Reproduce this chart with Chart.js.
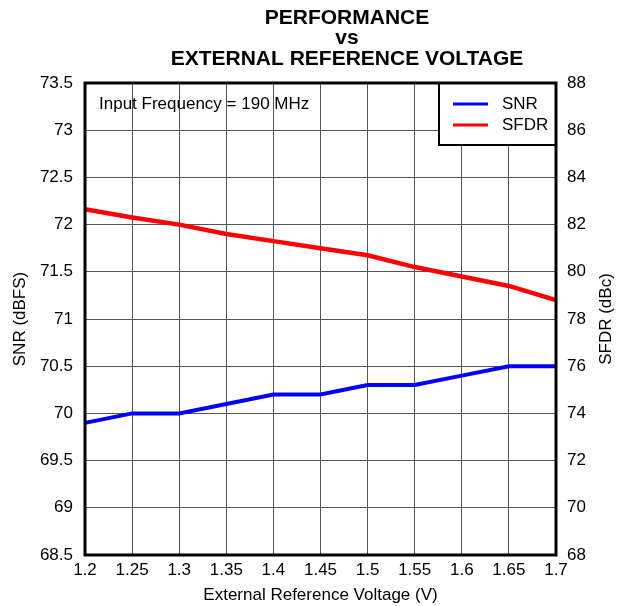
<!DOCTYPE html>
<html>
<head>
<meta charset="utf-8">
<script src="https://cdn.jsdelivr.net/npm/chart.js@4"></script>
<style>
  html, body { margin: 0; padding: 0; background: #fff; }
  #wrap { width: 624px; height: 606px; }
</style>
</head>
<body>
<div id="wrap"><canvas id="perfChart" width="624" height="606"></canvas></div>
<script>
// data
const voltages = ['1.2', '1.25', '1.3', '1.35', '1.4', '1.45', '1.5', '1.55', '1.6', '1.65', '1.7'];
const snrValues = [69.9, 70.0, 70.0, 70.1, 70.2, 70.2, 70.3, 70.3, 70.4, 70.5, 70.5];
const sfdrValues = [82.65, 82.3, 82.0, 81.6, 81.3, 81.0, 80.7, 80.2, 79.8, 79.4, 78.8];
const titleLines = ['PERFORMANCE', 'vs', 'EXTERNAL REFERENCE VOLTAGE'];
const noteText = 'Input Frequency = 190 MHz';

const FONT = 'Arial, "Liberation Sans", sans-serif';

// title, frame, inside legend box, note and right-hand axis title
const decorations = {
  id: 'decorations',
  afterDraw(chart) {
    const ctx = chart.ctx;
    const area = chart.chartArea;
    ctx.save();

    // title (sits off-centre in the original)
    ctx.fillStyle = '#000';
    ctx.font = 'bold 21px ' + FONT;
    ctx.textAlign = 'center';
    ctx.textBaseline = 'middle';
    titleLines.forEach((t, i) => ctx.fillText(t, 347, 18 + i * 20.5));

    // note text
    ctx.font = '17px ' + FONT;
    ctx.textAlign = 'left';
    ctx.fillText(noteText, area.left + 14, area.top + 21);

    // legend box
    const boxW = 117, boxH = 62;
    const bx = area.right - boxW, by = area.top;
    ctx.fillStyle = '#fff';
    ctx.fillRect(bx, by, boxW, boxH);
    ctx.strokeStyle = '#000';
    ctx.lineWidth = 2;
    ctx.strokeRect(bx, by, boxW, boxH);
    chart.data.datasets.forEach((ds, i) => {
      const y = by + 21 + i * 21;
      ctx.strokeStyle = ds.borderColor;
      ctx.lineWidth = 3;
      ctx.beginPath();
      ctx.moveTo(bx + 14, y);
      ctx.lineTo(bx + 49, y);
      ctx.stroke();
      ctx.fillStyle = '#000';
      ctx.font = '17px ' + FONT;
      ctx.fillText(ds.label, bx + 63, y);
    });

    // plot frame
    ctx.strokeStyle = '#000';
    ctx.lineWidth = 3;
    ctx.strokeRect(area.left, area.top, area.right - area.left, area.bottom - area.top);

    // right axis title, reads bottom to top
    ctx.translate(606, (area.top + area.bottom) / 2);
    ctx.rotate(-Math.PI / 2);
    ctx.textAlign = 'center';
    ctx.fillStyle = '#000';
    ctx.font = '17px ' + FONT;
    ctx.fillText('SFDR (dBc)', 0, 0);
    ctx.restore();
  }
};

const tickFmt = v => String(Number(v.toFixed(2)));

const ctx = document.getElementById('perfChart').getContext('2d');
new Chart(ctx, {
  type: 'line',
  data: {
    labels: voltages,
    datasets: [{
      label: 'SNR',
      data: snrValues,
      borderColor: '#0000ff',
      borderWidth: 4,
      pointRadius: 0,
      tension: 0,
      yAxisID: 'y'
    }, {
      label: 'SFDR',
      data: sfdrValues,
      borderColor: '#ff0000',
      borderWidth: 4.5,
      pointRadius: 0,
      tension: 0,
      yAxisID: 'y2'
    }]
  },
  options: {
    responsive: false,
    animation: false,
    layout: { padding: { top: 83, right: 0, bottom: 0, left: 10 } },
    plugins: {
      legend: { display: false },
      tooltip: { enabled: false },
      title: { display: false }
    },
    scales: {
      x: {
        type: 'category',
        offset: false,
        grid: { color: '#555', lineWidth: 1, drawTicks: false },
        border: { display: false },
        ticks: { color: '#000', font: { family: FONT, size: 17 }, padding: 5, maxRotation: 0, autoSkip: false },
        title: { display: true, text: 'External Reference Voltage (V)', color: '#000', font: { family: FONT, size: 17 }, padding: 0 },
        afterFit(scale) { scale.height = 51; }
      },
      y: {
        position: 'left',
        min: 68.5,
        max: 73.5,
        ticks: { stepSize: 0.5, color: '#000', font: { family: FONT, size: 17 }, padding: 12, callback: tickFmt },
        grid: { color: '#555', lineWidth: 1, drawTicks: false },
        border: { display: false },
        title: { display: true, text: 'SNR (dBFS)', color: '#000', font: { family: FONT, size: 17 }, padding: 0 },
        afterFit(scale) { scale.width = 75; }
      },
      y2: {
        position: 'right',
        min: 68,
        max: 88,
        ticks: { stepSize: 2, color: '#000', font: { family: FONT, size: 17 }, padding: 11, callback: tickFmt },
        grid: { display: false, drawTicks: false },
        border: { display: false },
        afterFit(scale) { scale.width = 68; }
      }
    }
  },
  plugins: [decorations]
});
</script>
</body>
</html>
